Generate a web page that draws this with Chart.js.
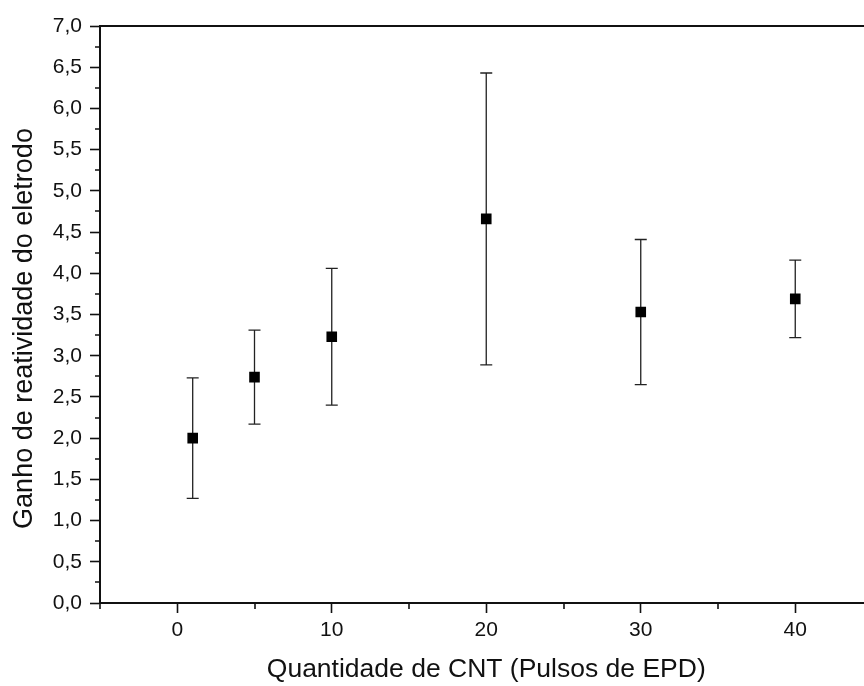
<!DOCTYPE html>
<html>
<head>
<meta charset="utf-8">
<script src="https://cdn.jsdelivr.net/npm/chart.js@4/dist/chart.umd.min.js"></script>
<style>
  html, body { margin: 0; padding: 0; background: #fff; overflow: hidden; }
  #wrap { width: 880px; height: 686px; position: relative; }
</style>
</head>
<body>
<div id="wrap"><canvas id="c" width="880" height="686"></canvas></div>
<script>
// ---- data ----
const pulses = [1, 5, 10, 20, 30, 40];
const gain   = [2.00, 2.74, 3.23, 4.66, 3.53, 3.69];
const gainErr = [0.73, 0.57, 0.83, 1.77, 0.88, 0.47];
const xTitle = 'Quantidade de CNT (Pulsos de EPD)';
const yTitle = 'Ganho de reatividade do eletrodo';
const xMajorLabels = [0, 10, 20, 30, 40];

const FONT = '"Liberation Sans", Arial, sans-serif';
const INK = '#111';

const points = pulses.map((x, i) => ({ x: x, y: gain[i], err: gainErr[i] }));

const errorBars = {
  id: 'errorBars',
  beforeDatasetsDraw(chart) {
    const ctx = chart.ctx, xs = chart.scales.x, ys = chart.scales.y;
    ctx.save();
    ctx.strokeStyle = '#222';
    ctx.lineWidth = 1.3;
    points.forEach(p => {
      const px = xs.getPixelForValue(p.x);
      const top = ys.getPixelForValue(p.y + p.err);
      const bot = ys.getPixelForValue(p.y - p.err);
      ctx.beginPath();
      ctx.moveTo(px, top); ctx.lineTo(px, bot);
      ctx.moveTo(px - 6, top); ctx.lineTo(px + 6, top);
      ctx.moveTo(px - 6, bot); ctx.lineTo(px + 6, bot);
      ctx.stroke();
    });
    ctx.restore();
  }
};

const frame = {
  id: 'frame',
  afterDraw(chart) {
    const ctx = chart.ctx, a = chart.chartArea, xs = chart.scales.x, ys = chart.scales.y;
    ctx.save();
    ctx.strokeStyle = INK;
    // top border
    ctx.lineWidth = 2;
    ctx.beginPath(); ctx.moveTo(a.left - 1, a.top); ctx.lineTo(a.right, a.top); ctx.stroke();
    // minor ticks
    ctx.lineWidth = 1.6;
    ctx.beginPath();
    xs.ticks.forEach(t => {
      if (xMajorLabels.indexOf(t.value) === -1) {
        const px = Math.round(xs.getPixelForValue(t.value));
        ctx.moveTo(px, a.bottom); ctx.lineTo(px, a.bottom + 6);
      }
    });
    ys.ticks.forEach(t => {
      if (Math.abs(t.value * 2 - Math.round(t.value * 2)) > 1e-6) {
        const py = Math.round(ys.getPixelForValue(t.value));
        ctx.moveTo(a.left, py); ctx.lineTo(a.left - 5, py);
      }
    });
    ctx.stroke();
    // y axis title
    ctx.fillStyle = INK;
    ctx.font = '27px ' + FONT;
    ctx.textAlign = 'center';
    ctx.textBaseline = 'alphabetic';
    ctx.translate(32, 328.5);
    ctx.rotate(-Math.PI / 2);
    ctx.fillText(yTitle, 0, 0);
    ctx.restore();
  }
};

new Chart(document.getElementById('c'), {
  type: 'scatter',
  data: {
    datasets: [{
      data: points,
      pointStyle: 'rect',
      pointRadius: 7.5,
      pointHoverRadius: 7.5,
      backgroundColor: '#000',
      borderColor: '#000',
      borderWidth: 0
    }]
  },
  options: {
    responsive: false,
    animation: false,
    events: [],
    layout: { padding: { top: 26, right: 5, left: 0, bottom: 0 } },
    plugins: { legend: { display: false }, tooltip: { enabled: false } },
    scales: {
      x: {
        type: 'linear',
        min: -5, max: 45,
        afterFit(s) { s.height = 83; },
        border: { display: true, color: INK, width: 2 },
        grid: {
          display: true, drawOnChartArea: false, drawTicks: true, tickLength: 10,
          tickWidth: 1.6,
          tickColor: c => (c.tick && xMajorLabels.indexOf(c.tick.value) !== -1) ? INK : 'rgba(0,0,0,0)'
        },
        ticks: {
          stepSize: 5, autoSkip: false, maxRotation: 0, padding: 5,
          color: INK, font: { family: FONT, size: 21 },
          callback: v => xMajorLabels.indexOf(v) !== -1 ? String(v) : ''
        },
        title: {
          display: true, text: xTitle, color: INK,
          font: { family: FONT, size: 26.5 }, padding: { top: 2, bottom: 0 }
        }
      },
      y: {
        type: 'linear',
        min: 0, max: 7,
        afterFit(s) { s.width = 100; },
        border: { display: true, color: INK, width: 2 },
        grid: {
          display: true, drawOnChartArea: false, drawTicks: true, tickLength: 10,
          tickWidth: 1.6,
          tickColor: c => (c.tick && Math.abs(c.tick.value * 2 - Math.round(c.tick.value * 2)) < 1e-6) ? INK : 'rgba(0,0,0,0)'
        },
        ticks: {
          stepSize: 0.25, autoSkip: false, padding: 8,
          color: INK, font: { family: FONT, size: 21 },
          callback: v => (Math.abs(v * 2 - Math.round(v * 2)) < 1e-6) ? v.toFixed(1).replace('.', ',') : ''
        },
        title: { display: false }
      }
    }
  },
  plugins: [errorBars, frame]
});
</script>
</body>
</html>
